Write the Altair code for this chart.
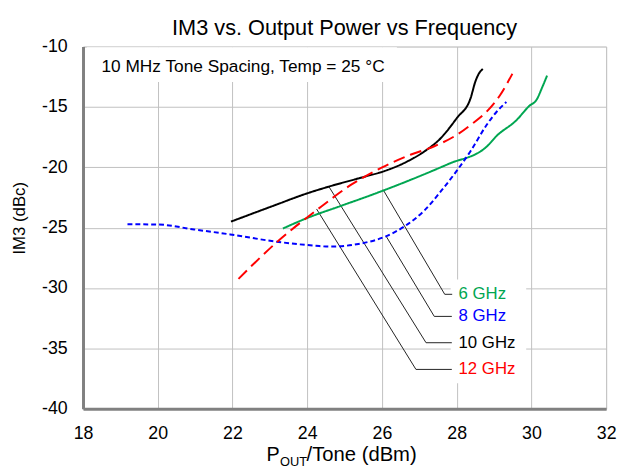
import altair as alt
import pandas as pd

FONT = "Liberation Sans"

# ---------------- data ----------------
x_ticks = [18, 20, 22, 24, 26, 28, 30, 32]
y_ticks = [-40, -35, -30, -25, -20, -15, -10]

series_names = ["6 GHz", "8 GHz", "10 GHz", "12 GHz"]
series_colors = ["#00A651", "#0000FF", "#000000", "#FF0000"]
series_dashes = [[1, 0], [5, 3], [1, 0], [12, 6]]

g6_x = [23.35, 24.0, 24.9, 25.8, 26.8, 27.8, 28.8, 29.07, 29.6, 29.95, 30.13, 30.3, 30.42]
g6_y = [-25.07, -24.2, -23.2, -22.2, -21.0, -19.7, -18.3, -17.4, -16.1, -14.9, -14.45, -13.3, -12.4]

g8_x = [19.19, 20.0, 20.97, 21.94, 23.17, 24.23, 24.58, 25.37, 26.08, 26.6, 27.13, 27.6, 28.0, 28.37, 28.8, 29.07, 29.33]
g8_y = [-24.72, -24.74, -25.15, -25.56, -26.16, -26.5, -26.57, -26.35, -25.75, -24.9, -23.6, -21.9, -20.3, -18.67, -16.5, -15.4, -14.6]

g10_x = [21.96, 23.17, 23.96, 24.58, 25.55, 26.08, 26.69, 27.13, 27.57, 28.01, 28.37, 28.5, 28.59, 28.70]
g10_y = [-24.5, -23.1, -22.2, -21.6, -20.77, -20.3, -19.5, -18.7, -17.6, -15.9, -14.3, -12.9, -12.26, -11.86]

g12_x = [22.16, 23.26, 24.23, 25.2, 25.99, 26.78, 27.4, 28.01, 28.37, 28.8, 29.16, 29.49]
g12_y = [-29.24, -26.0, -23.6, -21.4, -20.03, -18.94, -18.26, -17.3, -16.5, -15.4, -14.03, -12.26]

# leader lines: curve point -> elbow -> label end
lead_curve_x = [26.03, 26.12, 24.58, 24.25]
lead_curve_y = [-21.85, -25.75, -21.6, -23.45]
lead_elbow_x = [27.68, 27.40, 27.18, 26.91]
lead_label_x = [27.88, 27.87, 27.87, 27.87]
lead_label_y = [-30.52, -32.35, -34.53, -36.74]
label_text_x = 28.05

# white masks (annotation and label boxes)
mask_x1 = [18.1, 27.84]
mask_x2 = [26.4, 29.86]
mask_y1 = [-10.05, -29.3]
mask_y2 = [-12.94, -37.88]

note_text = "10 MHz Tone Spacing, Temp = 25 \u00b0C"
title_text = "IM3 vs. Output Power vs Frequency"
y_title = "IM3 (dBc)"

# ---------------- frames ----------------
rows = []
for name, xs, ys in zip(series_names, [g6_x, g8_x, g10_x, g12_x], [g6_y, g8_y, g10_y, g12_y]):
    for i, (a, b) in enumerate(zip(xs, ys)):
        rows.append({"series": name, "x": a, "y": b, "i": i})
curves = pd.DataFrame(rows)

lead_rows = []
for k, name in enumerate(series_names):
    lead_rows.append({"series": name, "i": 0, "x": lead_curve_x[k], "y": lead_curve_y[k]})
    lead_rows.append({"series": name, "i": 1, "x": lead_elbow_x[k], "y": lead_label_y[k]})
    lead_rows.append({"series": name, "i": 2, "x": lead_label_x[k], "y": lead_label_y[k]})
leaders = pd.DataFrame(lead_rows)

labels = pd.DataFrame({"series": series_names, "x": [label_text_x] * 4, "y": lead_label_y})
masks = pd.DataFrame({"x": mask_x1, "x2": mask_x2, "y": mask_y1, "y2": mask_y2})

xscale = alt.Scale(domain=[18, 32], nice=False, zero=False)
yscale = alt.Scale(domain=[-40, -10], nice=False, zero=False)
cscale = alt.Scale(domain=series_names, range=series_colors)
dscale = alt.Scale(domain=series_names, range=series_dashes)

common_axis = dict(title=None, grid=True, ticks=False, labelFontSize=18, labelColor="#000",
                   domainColor="#808080", domainWidth=3, gridColor="#c0c0c0", gridWidth=1,
                   labelFont=FONT, labelFlush=False, labelOverlap=False,
                   labelExpr="datum.value + ''")
xaxis = alt.Axis(values=x_ticks, labelPadding=16, **common_axis)
yaxis = alt.Axis(values=y_ticks, labelPadding=16, **common_axis)

base_axes = alt.Chart(masks).mark_rect(color="white", opacity=1).encode(
    x=alt.X("x:Q", scale=xscale, axis=xaxis),
    x2="x2:Q",
    y=alt.Y("y:Q", scale=yscale, axis=yaxis),
    y2="y2:Q",
)

lines = alt.Chart(curves).mark_line(strokeWidth=2, interpolate="monotone").encode(
    x="x:Q", y="y:Q",
    color=alt.Color("series:N", scale=cscale, legend=None),
    strokeDash=alt.StrokeDash("series:N", scale=dscale, legend=None),
    order="i:Q",
)

lead = alt.Chart(leaders).mark_line(strokeWidth=1, color="#222").encode(
    x="x:Q", y="y:Q", detail="series:N", order="i:Q",
)

lbl = alt.Chart(labels).mark_text(align="left", baseline="middle", fontSize=17, font=FONT).encode(
    x="x:Q", y="y:Q", text="series:N",
    color=alt.Color("series:N", scale=cscale, legend=None),
)

def txt(s, x, y, size, angle=0, baseline="alphabetic", align="left"):
    kw = dict(fontSize=size, font=FONT, color="black", baseline=baseline, align=align)
    if angle:
        kw["angle"] = angle
    return alt.Chart(pd.DataFrame({"t": [s]})).mark_text(**kw).encode(
        x=alt.value(x), y=alt.value(y), text="t:N")

note = txt(note_text, 18.7, 21, 17.5, baseline="middle")
title = txt(title_text, 265, -12, 22, align="center")
ytitle = txt(y_title, -64, 174, 17, angle=270, baseline="middle", align="center")
xt1 = txt("P", 186, 420, 20)
xt2 = txt("OUT", 199.5, 425, 13)
xt3 = txt("/Tone (dBm)", 226.5, 420, 20.5)

chart = alt.layer(base_axes, lead, lines, lbl, note, title, ytitle, xt1, xt2, xt3).properties(
    width=530, height=367,
    autosize=alt.AutoSizeParams(type="none"),
    padding={"left": 76, "top": 36, "right": 11, "bottom": 60},
).configure_view(stroke="#000", strokeWidth=1.5).configure(font=FONT)

chart.save("out.html", embed_options={"renderer": "svg", "actions": False})
